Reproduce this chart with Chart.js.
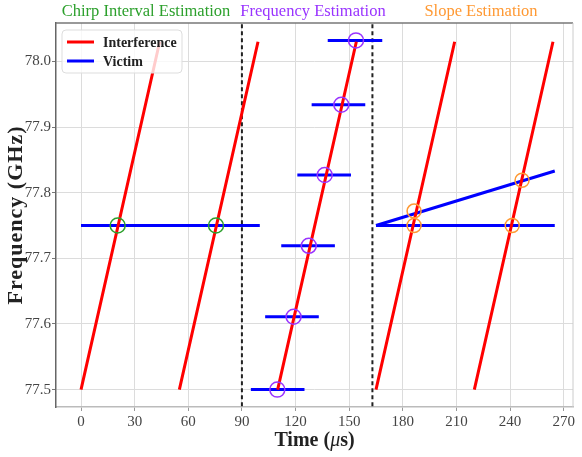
<!DOCTYPE html>
<html>
<head>
<meta charset="utf-8">
<script src="https://cdn.jsdelivr.net/npm/chart.js@4"></script>
<style>
  body { margin: 0; background: #fff; }
  #wrap { width: 582px; height: 457px; }
</style>
</head>
<body>
<div id="wrap"><canvas id="grafico" width="582" height="457"></canvas></div>
<script>
// tick labels
const xTicks = [0, 30, 60, 90, 120, 150, 180, 210, 240, 270];
const yTicks = [77.5, 77.6, 77.7, 77.8, 77.9, 78.0];

// interference chirps (start / end time, start / end freq)
const chirpT0 = [0, 55, 110, 165, 220];
const chirpT1 = [44, 99, 154, 209, 264];
const chirpF0 = [77.5, 77.5, 77.5, 77.5, 77.5];
const chirpF1 = [78.03, 78.03, 78.03, 78.03, 78.03];

// victim segments
const victimT0 = [0, 95, 103, 112, 121, 129, 138, 165, 165];
const victimT1 = [100, 125, 133, 142, 151, 159, 168.5, 265, 265];
const victimF0 = [77.75, 77.5, 77.611, 77.719, 77.827, 77.934, 78.032, 77.75, 77.75];
const victimF1 = [77.75, 77.5, 77.611, 77.719, 77.827, 77.934, 78.032, 77.75, 77.833];

// estimation markers
const greenT = [20.5, 75.5];
const greenF = [77.75, 77.75];
const purpleT = [109.8, 118.9, 127.4, 136.3, 145.6, 153.8];
const purpleF = [77.5, 77.611, 77.719, 77.827, 77.934, 78.032];
const orangeT = [186.3, 186.3, 241.2, 246.7];
const orangeF = [77.75, 77.772, 77.75, 77.819];

// section separators
const sepT = [90, 163];

function segs(t0, t1, f0, f1) {
  let pts = [];
  for (let i = 0; i < t0.length; i++) {
    pts.push({ x: t0[i], y: f0[i] }, { x: t1[i], y: f1[i] }, { x: t1[i], y: null });
  }
  return pts;
}
function pts(t, f) {
  return t.map((v, i) => ({ x: v, y: f[i] }));
}

const serif = "'Liberation Serif', 'DejaVu Serif', serif";

const extras = {
  id: "extras",
  afterDatasetsDraw(chart) {
    const ctx = chart.ctx;
    const a = chart.chartArea;
    ctx.save();
    // top / right spines
    ctx.strokeStyle = "#777";
    ctx.lineWidth = 1.5;
    ctx.beginPath();
    ctx.moveTo(a.left, a.top);
    ctx.lineTo(a.right, a.top);
    ctx.stroke();
    ctx.strokeStyle = "#ccc";
    ctx.lineWidth = 1;
    ctx.beginPath();
    ctx.moveTo(a.right, a.top);
    ctx.lineTo(a.right, a.bottom);
    ctx.stroke();

    // legend
    const lx = a.left + 6, ly = a.top + 7, lw = 120, lh = 43;
    ctx.fillStyle = "rgba(255,255,255,0.8)";
    ctx.strokeStyle = "#ddd";
    ctx.lineWidth = 1;
    ctx.beginPath();
    ctx.roundRect(lx, ly, lw, lh, 4);
    ctx.fill();
    ctx.stroke();
    const items = [["Interference", "#ff0000"], ["Victim", "#0000ff"]];
    ctx.font = "bold 14px " + serif;
    ctx.textBaseline = "middle";
    items.forEach((it, i) => {
      const y = ly + 12 + i * 19;
      ctx.strokeStyle = it[1];
      ctx.lineWidth = 3;
      ctx.beginPath();
      ctx.moveTo(lx + 5, y);
      ctx.lineTo(lx + 32, y);
      ctx.stroke();
      ctx.fillStyle = "#222";
      ctx.fillText(it[0], lx + 41, y + 1);
    });

    // section headings
    ctx.font = "16.5px " + serif;
    ctx.textAlign = "center";
    ctx.textBaseline = "alphabetic";
    ctx.fillStyle = "#2ca02c";
    ctx.fillText("Chirp Interval Estimation", 146, 16);
    ctx.fillStyle = "#9933ff";
    ctx.fillText("Frequency Estimation", 313, 16);
    ctx.fillStyle = "#ff9933";
    ctx.fillText("Slope Estimation", 481, 16);

    // axis titles
    ctx.fillStyle = "#222";
    const parts = [["Time (", "bold 20px "], ["\u03bc", "italic 20px "], ["s)", "bold 20px "]];
    let total = 0;
    parts.forEach(p => { ctx.font = p[1] + serif; total += ctx.measureText(p[0]).width; });
    let x = (a.left + a.right) / 2 - total / 2;
    ctx.textAlign = "left";
    parts.forEach(p => {
      ctx.font = p[1] + serif;
      ctx.fillText(p[0], x, 446);
      x += ctx.measureText(p[0]).width;
    });
    ctx.translate(22, (a.top + a.bottom) / 2);
    ctx.rotate(-Math.PI / 2);
    ctx.textAlign = "center";
    ctx.font = "bold 22px " + serif;
    ctx.letterSpacing = "1px";
    ctx.fillText("Frequency (GHz)", 0, 0);
    ctx.restore();
  },
};

new Chart(document.getElementById("grafico"), {
  type: "scatter",
  data: {
    datasets: [
      {
        data: pts(greenT, greenF),
        pointRadius: 7.5,
        pointBorderWidth: 1.5,
        pointBorderColor: "#2ca02c",
        pointBackgroundColor: "rgba(0,0,0,0)",
        order: 0,
      },
      {
        data: pts(purpleT, purpleF),
        pointRadius: 7.5,
        pointBorderWidth: 1.5,
        pointBorderColor: "#9933ff",
        pointBackgroundColor: "rgba(0,0,0,0)",
        order: 0,
      },
      {
        data: pts(orangeT, orangeF),
        pointRadius: 7,
        pointBorderWidth: 1.5,
        pointBorderColor: "#ff9933",
        pointBackgroundColor: "rgba(0,0,0,0)",
        order: 0,
      },
      {
        data: segs(chirpT0, chirpT1, chirpF0, chirpF1),
        showLine: true,
        borderColor: "#ff0000",
        borderWidth: 3,
        pointRadius: 0,
        order: 1,
      },
      {
        data: segs(victimT0, victimT1, victimF0, victimF1),
        showLine: true,
        borderColor: "#0000ff",
        borderWidth: 3,
        pointRadius: 0,
        order: 2,
      },
      {
        data: segs(sepT, sepT, sepT.map(() => 77.4), sepT.map(() => 78.1)),
        showLine: true,
        borderColor: "#222",
        borderWidth: 2,
        borderDash: [4, 3],
        pointRadius: 0,
        order: 3,
      },
    ],
  },
  options: {
    responsive: false,
    animation: false,
    devicePixelRatio: 1,
    layout: { padding: { top: 23, right: -1, left: 0, bottom: 0 } },
    plugins: { legend: { display: false }, tooltip: { enabled: false } },
    scales: {
      x: {
        type: "linear",
        min: -14,
        max: 275.2,
        afterFit: s => { s.height = 50; s.paddingLeft = 0; s.paddingRight = 0; },
        afterBuildTicks: s => { s.ticks = xTicks.map(v => ({ value: v })); },
        ticks: { color: "#444", font: { family: serif, size: 15 }, padding: 2, maxRotation: 0 },
        grid: { color: "#dcdcdc", tickColor: "#999", tickLength: 4 },
        border: { color: "#bbb", width: 1.5 },
      },
      y: {
        min: 77.4735,
        max: 78.0585,
        afterFit: s => { s.width = 56; s.paddingTop = 0; s.paddingBottom = 0; },
        afterBuildTicks: s => { s.ticks = yTicks.map(v => ({ value: v })); },
        ticks: { color: "#444", font: { family: serif, size: 15 }, padding: 1, callback: v => v.toFixed(1) },
        grid: { color: "#dcdcdc", tickColor: "#777", tickLength: 4 },
        border: { color: "#666", width: 1.5 },
      },
    },
  },
  plugins: [extras],
});
</script>
</body>
</html>
